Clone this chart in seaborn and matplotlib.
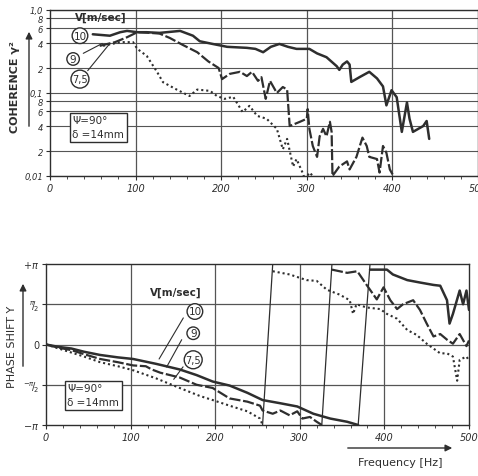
import numpy as np
import pandas as pd
import matplotlib
matplotlib.use("Agg")
import matplotlib.pyplot as plt
import seaborn as sns

# ---------------- data ----------------
speeds = ["10", "9", "7,5"]

# coherence (top panel)
f10_coh = [50, 70, 82, 90, 102, 113, 128, 152, 167, 175, 190, 207, 230, 240, 249, 258, 268, 278, 288,
           303, 312, 323, 335, 338, 342, 347, 350, 352, 362, 373, 382, 389, 393, 399, 405, 411, 417,
           420, 424, 436, 440, 443]
c10 = [0.51, 0.49, 0.54, 0.56, 0.54, 0.54, 0.53, 0.56, 0.49, 0.42, 0.39, 0.36, 0.35, 0.34, 0.31, 0.36,
       0.39, 0.36, 0.34, 0.34, 0.30, 0.27, 0.21, 0.19, 0.22, 0.24, 0.22, 0.136, 0.156, 0.18, 0.15, 0.12,
       0.071, 0.108, 0.089, 0.034, 0.077, 0.049, 0.034, 0.040, 0.046, 0.028]

f9_coh = [58, 76, 90, 102, 117, 128, 140, 155, 172, 185, 197, 201, 210, 222, 230, 236, 243, 247, 252,
          257, 265, 272, 277, 280, 292, 300, 301, 303, 307, 312, 315, 319, 323, 327, 329, 330, 338,
          347, 350, 358, 365, 370, 373, 382, 385, 389, 393, 397, 405]
c9 = [0.37, 0.41, 0.47, 0.54, 0.53, 0.52, 0.46, 0.38, 0.31, 0.24, 0.20, 0.147, 0.17, 0.18, 0.16, 0.18,
      0.14, 0.155, 0.085, 0.14, 0.10, 0.118, 0.11, 0.040, 0.045, 0.049, 0.064, 0.037, 0.023, 0.017,
      0.030, 0.037, 0.030, 0.045, 0.034, 0.010, 0.013, 0.015, 0.012, 0.017, 0.029, 0.023, 0.017,
      0.016, 0.011, 0.023, 0.019, 0.012, 0.0085]

f75_coh = [62, 82, 97, 102, 113, 125, 132, 148, 163, 172, 187, 195, 204, 214, 225, 233, 242, 253, 265,
           272, 277, 284, 288, 295, 298, 303, 312, 316]
c75 = [0.37, 0.41, 0.41, 0.34, 0.28, 0.18, 0.135, 0.11, 0.092, 0.11, 0.106, 0.092, 0.085, 0.090, 0.059,
       0.070, 0.053, 0.049, 0.037, 0.021, 0.028, 0.013, 0.016, 0.011, 0.009, 0.011, 0.009, 0.008]

# phase shift (bottom panel), in units of pi; "a" before the wrap, "b" after it
pf10a = [0, 15, 30, 45, 64, 85, 103, 130, 158, 178, 197, 217, 238, 256, 277, 297, 316, 336, 356, 369]
pp10a = [0, -0.03, -0.05, -0.09, -0.13, -0.16, -0.18, -0.24, -0.31, -0.38, -0.46, -0.51, -0.60, -0.69,
         -0.73, -0.77, -0.86, -0.92, -0.96, -1.0]
pf10b = [383, 403, 410, 427, 442, 458, 466, 474, 477, 481, 489, 493, 497, 500]
pp10b = [0.93, 0.93, 0.87, 0.80, 0.77, 0.74, 0.73, 0.55, 0.26, 0.38, 0.67, 0.50, 0.67, 0.43]

pf9a = [0, 15, 30, 45, 64, 85, 103, 118, 125, 135, 158, 178, 197, 217, 238, 253, 256, 268, 277, 288,
        297, 303, 312, 320, 326]
pp9a = [0, -0.04, -0.07, -0.12, -0.18, -0.22, -0.26, -0.27, -0.31, -0.35, -0.41, -0.50, -0.54, -0.67,
        -0.71, -0.76, -0.82, -0.86, -0.82, -0.88, -0.83, -0.92, -0.90, -0.96, -1.0]
pf9b = [338, 356, 368, 379, 387, 391, 399, 407, 415, 422, 434, 442, 450, 458, 466, 474, 481, 489, 497, 500]
pp9b = [0.93, 0.89, 0.91, 0.74, 0.62, 0.56, 0.71, 0.55, 0.44, 0.50, 0.55, 0.43, 0.26, 0.10, 0.13, 0.06,
        0.01, 0.13, -0.02, 0.05]

pf75a = [0, 15, 30, 45, 64, 85, 103, 130, 158, 182, 197, 217, 238, 253, 256]
pp75a = [0, -0.05, -0.10, -0.15, -0.22, -0.27, -0.32, -0.42, -0.54, -0.64, -0.69, -0.76, -0.83, -0.92, -1.0]
pf75b = [268, 288, 308, 320, 332, 347, 359, 363, 367, 379, 395, 403, 415, 427, 438, 450, 466, 474, 481,
         486, 489, 497, 500]
pp75b = [0.91, 0.87, 0.80, 0.79, 0.68, 0.62, 0.55, 0.38, 0.50, 0.46, 0.44, 0.38, 0.32, 0.18, 0.12, 0.01,
         -0.11, -0.11, -0.15, -0.45, -0.19, -0.15, -0.20]

coh_ticks = [1.0, 0.8, 0.6, 0.4, 0.2, 0.1, 0.08, 0.06, 0.04, 0.02, 0.01]
coh_labels = ["1,0", "8", "6", "4", "2", "0,1", "8", "6", "4", "2", "0,01"]
freq_ticks = [0, 100, 200, 300, 400, 500]
phase_ticks = [1, 0.5, 0, -0.5, -1]
phase_labels = [r"$+\pi$", r"$^{\pi}\!/\!_{2}$", "0", r"$^{-\pi}\!/\!_{2}$", r"$-\pi$"]

# ---------------- style ----------------
sns.set_theme(style="white")
plt.rcParams["font.family"] = ["DejaVu Sans"]
INK = "#2e2e2e"
GRID = "#555555"
styles = {"10": dict(ls="-", lw=1.8),
          "9": dict(ls=(0, (5, 1.2)), lw=1.6),
          "7,5": dict(ls=(0, (1, 1.4)), lw=1.5)}

W, H = 478, 477
fig = plt.figure(figsize=(W / 100, H / 100), dpi=100)
fig.patch.set_facecolor("white")


def px(x, y):
    return x / W, 1 - y / H


# ---------------- top: coherence ----------------
ax1 = fig.add_axes([50 / W, 1 - 177 / H, 428 / W, 166 / H])
coh_df = pd.concat([
    pd.DataFrame({"f": f10_coh, "c": c10, "V": "10"}),
    pd.DataFrame({"f": f9_coh, "c": c9, "V": "9"}),
    pd.DataFrame({"f": f75_coh, "c": c75, "V": "7,5"}),
])
for v in speeds:
    d = coh_df[coh_df.V == v]
    sns.lineplot(data=d, x="f", y="c", ax=ax1, color=INK, estimator=None, sort=False,
                 legend=False, **styles[v])
ax1.set_yscale("log")
ax1.set_ylim(0.01, 1.0)
ax1.set_xlim(0, 500)
ax1.set_yticks(coh_ticks)
ax1.set_yticklabels(coh_labels, fontstyle="italic", fontsize=6, color=INK)
ax1.yaxis.set_minor_locator(matplotlib.ticker.NullLocator())
ax1.set_xticks(freq_ticks)
ax1.set_xticklabels([str(t) for t in freq_ticks], fontstyle="italic", fontsize=7, color=INK)
ax1.set_xticks(np.arange(0, 501, 20), minor=True)
for t in coh_ticks:
    ax1.axhline(t, color=GRID, lw=0.8, zorder=0)
for t in freq_ticks[1:-1]:
    ax1.axvline(t, color=GRID, lw=0.9, zorder=0)
ax1.set_xlabel("")
ax1.set_ylabel("")

ax1.text(29, 0.82, "V[m/sec]", fontsize=7.5, color=INK, va="center", ha="left", fontweight="bold")
circ = dict(boxstyle="circle,pad=0.12", fc="white", ec=INK, lw=1.0)
ax1.text(35, 0.49, "10", fontsize=7.5, ha="center", va="center", color=INK, bbox=circ, zorder=5)
ax1.text(27, 0.257, "9", fontsize=7.5, ha="center", va="center", color=INK, bbox=circ, zorder=5)
ax1.text(35, 0.147, "7,5", fontsize=7, ha="center", va="center", color=INK, bbox=circ, zorder=5)
ax1.annotate("", xy=(64, 0.41), xytext=(36, 0.29),
             arrowprops=dict(arrowstyle="-", color=INK, lw=0.8))
ax1.annotate("", xy=(72, 0.42), xytext=(42, 0.175),
             arrowprops=dict(arrowstyle="-", color=INK, lw=0.8))
ax1.text(26, 0.0385, "Ψ=90°\nδ =14mm", fontsize=7.5, color=INK, va="center", ha="left",
         linespacing=1.5, bbox=dict(boxstyle="square,pad=0.25", fc="white", ec=INK, lw=1.0), zorder=5)

# ---------------- bottom: phase ----------------
ax2 = fig.add_axes([46 / W, 1 - 426 / H, 423 / W, 161 / H])
segs = [("10", pf10a, pp10a), ("10", pf10b, pp10b),
        ("9", pf9a, pp9a), ("9", pf9b, pp9b),
        ("7,5", pf75a, pp75a), ("7,5", pf75b, pp75b)]
for i, (v, f, p) in enumerate(segs):
    d = pd.DataFrame({"f": f, "phi": np.array(p) * np.pi})
    sns.lineplot(data=d, x="f", y="phi", ax=ax2, color=INK, estimator=None, sort=False,
                 legend=False, **styles[v])
# phase-wrap connectors
for fa, pa, fb, pb in [(pf10a, pp10a, pf10b, pp10b), (pf9a, pp9a, pf9b, pp9b),
                       (pf75a, pp75a, pf75b, pp75b)]:
    ax2.plot([fa[-1], fb[0]], [pa[-1] * np.pi, np.pi], color=INK, lw=0.9)

ax2.set_xlim(0, 500)
ax2.set_ylim(-np.pi, np.pi)
ax2.set_yticks(np.array(phase_ticks) * np.pi)
ax2.set_yticklabels(phase_labels, fontsize=7, color=INK)
ax2.set_xticks(freq_ticks)
ax2.set_xticklabels([str(t) for t in freq_ticks], fontstyle="italic", fontsize=7, color=INK)
ax2.set_xticks(np.arange(0, 501, 20), minor=True)
for t in phase_ticks[1:-1]:
    ax2.axhline(t * np.pi, color=GRID, lw=0.9, zorder=0)
for t in freq_ticks[1:-1]:
    ax2.axvline(t, color=GRID, lw=0.9, zorder=0)
ax2.set_xlabel("")
ax2.set_ylabel("")

ax2.text(123, 0.66 * np.pi, "V[m/sec]", fontsize=7.5, color=INK, va="center", ha="left",
         fontweight="bold")
ax2.text(176, 0.41 * np.pi, "10", fontsize=7.5, ha="center", va="center", color=INK, bbox=circ, zorder=5)
ax2.text(174, 0.14 * np.pi, "9", fontsize=7.5, ha="center", va="center", color=INK, bbox=circ, zorder=5)
ax2.text(174, -0.19 * np.pi, "7,5", fontsize=7, ha="center", va="center", color=INK, bbox=circ, zorder=5)
for (x0, y0, x1, y1) in [(164, 0.36, 132, -0.21), (162, 0.09, 141, -0.31), (164, -0.25, 149, -0.46)]:
    ax2.annotate("", xy=(x1, y1 * np.pi), xytext=(x0, y0 * np.pi),
                 arrowprops=dict(arrowstyle="-", color=INK, lw=0.8))
ax2.text(25, -0.63 * np.pi, "Ψ=90°\nδ =14mm", fontsize=7.5, color=INK, va="center", ha="left",
         linespacing=1.5, bbox=dict(boxstyle="square,pad=0.25", fc="white", ec=INK, lw=1.0), zorder=5)

for ax in (ax1, ax2):
    for s in ax.spines.values():
        s.set_color(INK)
        s.set_linewidth(1.0)
    ax.tick_params(axis="both", which="major", length=3, width=0.8, color=INK, pad=2,
                   direction="out", bottom=True, left=True)
    ax.tick_params(axis="x", which="minor", length=2, width=0.6, color=INK, bottom=True)
    ax.set_facecolor("white")

# ---------------- axis titles ----------------
fig.text(*px(15, 87), "COHERENCE γ²", rotation=90, fontsize=8, color=INK, ha="center", va="center",
         fontweight="bold")
fig.patches.append(matplotlib.patches.FancyArrowPatch(px(29, 130), px(29, 30), transform=fig.transFigure,
                   arrowstyle="-|>,head_length=4,head_width=2", color=INK, lw=1.0))
fig.text(*px(12, 347), "PHASE SHIFT Y", rotation=90, fontsize=8, color=INK, ha="center", va="center")
fig.patches.append(matplotlib.patches.FancyArrowPatch(px(23, 370), px(23, 282), transform=fig.transFigure,
                   arrowstyle="-|>,head_length=4,head_width=2", color=INK, lw=1.0))
fig.text(*px(400, 463), "Frequency [Hz]", fontsize=8, color=INK, ha="center", va="center")
fig.patches.append(matplotlib.patches.FancyArrowPatch(px(345, 449), px(455, 449), transform=fig.transFigure,
                   arrowstyle="-|>,head_length=4,head_width=2", color=INK, lw=1.0))

fig.savefig("out.png", dpi=100, facecolor="white")
